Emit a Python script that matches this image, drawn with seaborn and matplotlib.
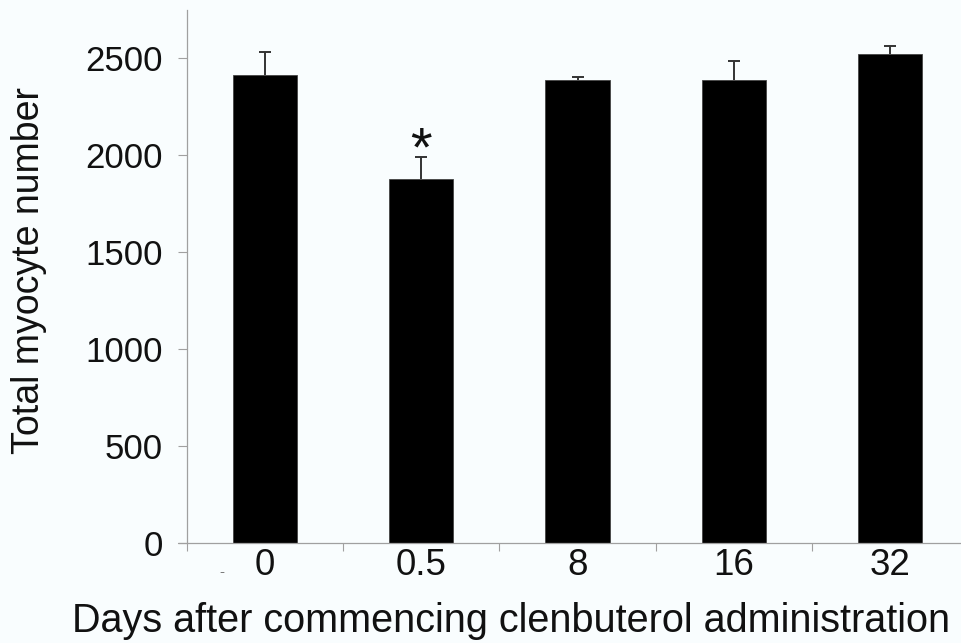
import matplotlib
matplotlib.use("Agg")
import matplotlib.pyplot as plt
import seaborn as sns
import pandas as pd
import numpy as np

# Data
days = ["0", "0.5", "8", "16", "32"]
mean_myocytes = [2408, 1875, 2382, 2382, 2516]
sem_myocytes = [120, 110, 17, 98, 42]
significant = [False, True, False, False, False]
y_ticks = [0, 500, 1000, 1500, 2000, 2500]

df = pd.DataFrame({"day": days, "mean": mean_myocytes, "sem": sem_myocytes})

sns.set_theme(style="white")
plt.rcParams["font.family"] = ["Liberation Sans", "DejaVu Sans"]

bg = "#F9FDFE"
grey = "#A0A0A0"

fig = plt.figure(figsize=(9.61, 6.43), dpi=100, facecolor=bg)
ax = fig.add_axes([187 / 961, 1 - 542.5 / 643, 781 / 961, 532.5 / 643])
ax.set_facecolor(bg)

sns.barplot(data=df, x="day", y="mean", order=days, color="black",
            edgecolor="#444444", linewidth=0.6, width=0.41,
            saturation=1, errorbar=None, ax=ax, zorder=3)

xpos = np.arange(len(days))
eb = ax.errorbar(xpos, df["mean"], yerr=[np.zeros(len(days)), df["sem"]],
                 fmt="none", ecolor="#333333", elinewidth=1.4, capsize=4,
                 capthick=1.4, zorder=1)
# hide the caps at the bar tops (lower side)
if len(eb[1]) >= 2:
    eb[1][0].set_visible(False)

for i, sig in enumerate(significant):
    if sig:
        ax.text(xpos[i], df["mean"][i] + df["sem"][i] - 40, "*",
                ha="center", va="baseline", fontsize=40, color="#111111")

ax.set_xlim(-0.5, len(days) - 0.5)
ax.set_ylim(0, 2745)
ax.set_yticks(y_ticks)
ax.set_yticklabels([str(v) for v in y_ticks], fontsize=25, color="#111111")
ax.set_xticks(xpos)
ax.set_xticklabels(days, fontsize=26.5, color="#111111")
ax.set_xticks(np.arange(-0.5, len(days)), minor=True)

ax.tick_params(axis="x", which="major", length=0, pad=4)
ax.tick_params(axis="x", which="minor", length=6, width=0.8, color=grey,
               direction="out", bottom=True)
ax.tick_params(axis="y", which="major", length=6.5, width=0.8, color=grey,
               direction="out", left=True, pad=11)

for s in ["top", "right"]:
    ax.spines[s].set_visible(False)
ax.spines["left"].set_color(grey)
ax.spines["left"].set_linewidth(0.9)
ax.spines["bottom"].set_visible(False)
ax.axhline(0, xmin=-0.012, xmax=1, color=grey, lw=0.9, clip_on=False, zorder=4)

ax.set_xlabel("Days after commencing clenbuterol administration",
              fontsize=28.5, color="#111111")
ax.xaxis.label.set_va("baseline")
ax.xaxis.set_label_coords(0.415, -0.168)

ax.set_ylabel("Total myocyte number", fontsize=27, color="#111111")
ax.yaxis.label.set_va("center")
ax.yaxis.set_label_coords(-0.2023, 0.511)

ax.text(0.0448, -0.055, "-", transform=ax.transAxes, fontsize=11,
        color="#777777", ha="center", va="center")

fig.savefig("out.png", dpi=100, facecolor=bg)
